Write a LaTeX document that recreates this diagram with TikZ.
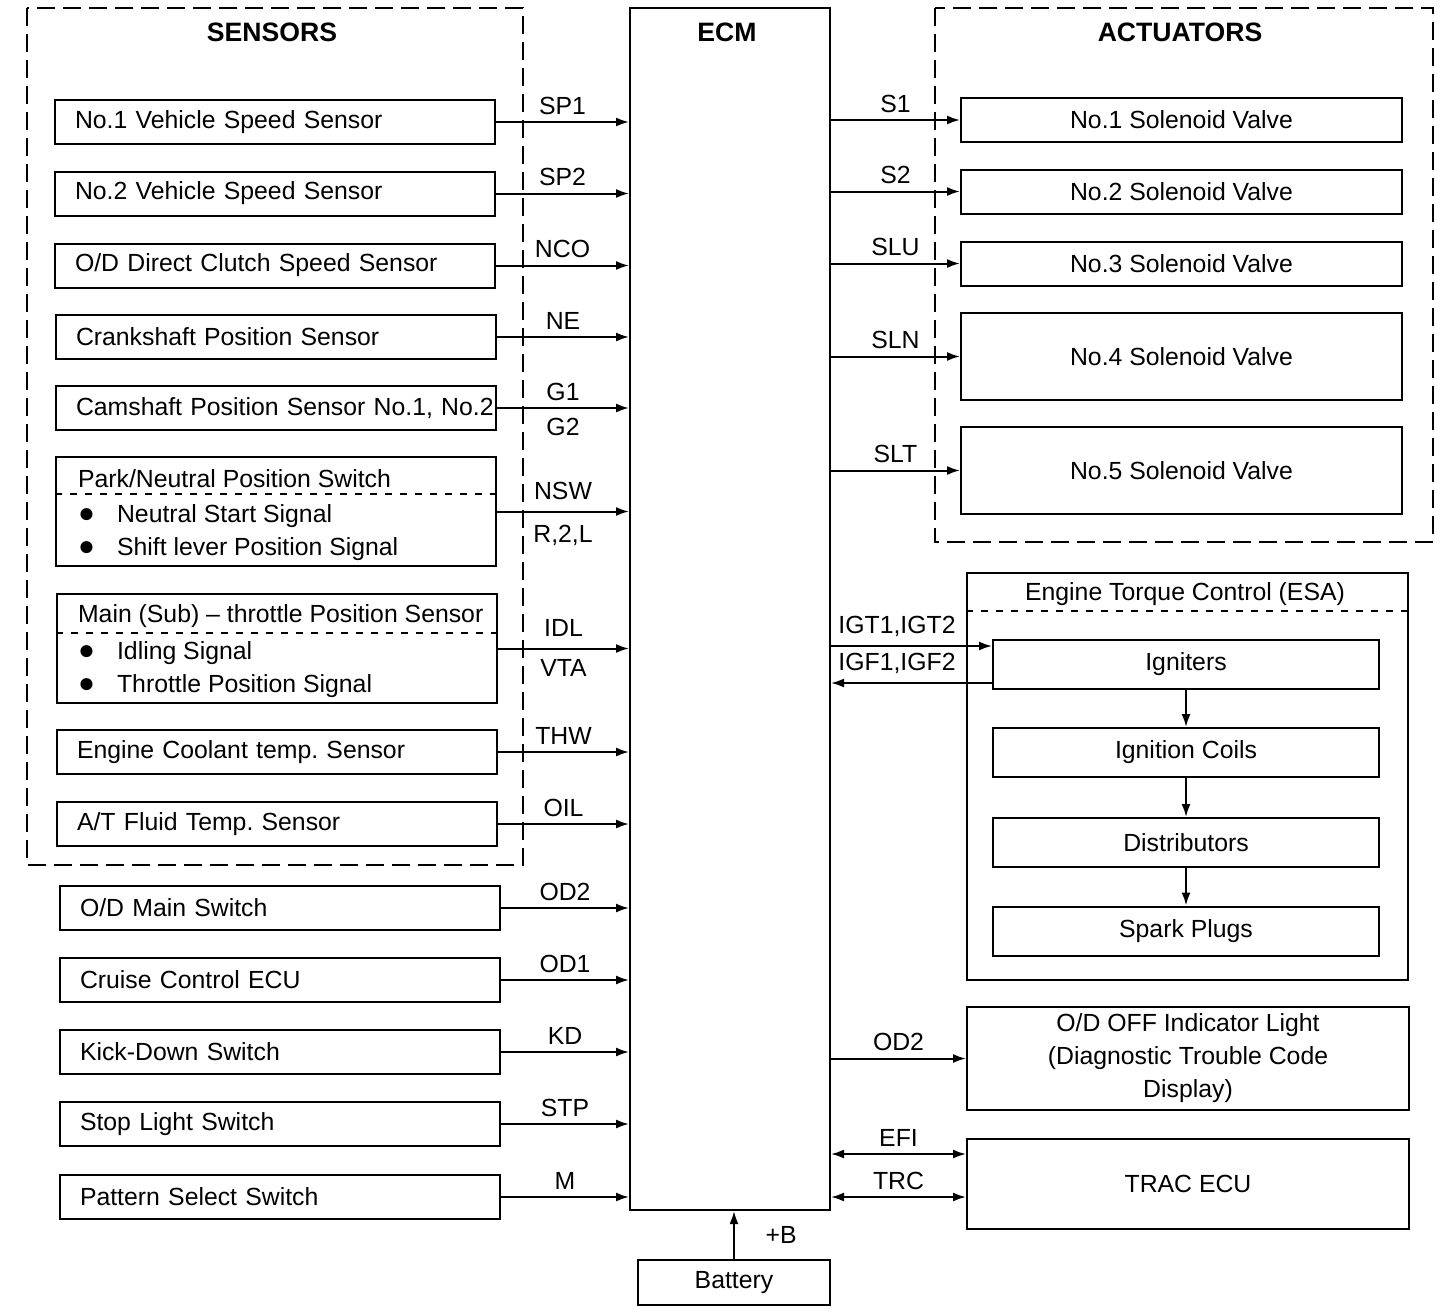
\documentclass[tikz,border=0pt]{standalone}
\usepackage{fontspec}
\setmainfont{Liberation Sans}
\usetikzlibrary{arrows.meta,calc}
\frenchspacing

\newcommand{\blt}{\makebox[19.5pt][l]{\fontsize{14}{14}\selectfont ●}}

\begin{document}
\begin{tikzpicture}[x=0.5pt,y=-0.5pt,
  font=\fontsize{12.4}{16.5}\selectfont,
  >={Latex[length=6.5pt,width=4.5pt]},
  blk/.style={draw,line width=1pt,minimum height=22pt},
  sbox/.style={blk,minimum width=220pt,text width=200pt,inner xsep=10pt,align=left},
  abox/.style={blk,minimum width=220.5pt,align=center},
  ibox/.style={blk,minimum width=193pt,minimum height=24.5pt},
  grp/.style={line width=0.9pt,dash pattern=on 9pt off 4pt},
  sepline/.style={line width=0.7pt,dash pattern=on 3.5pt off 4pt},
  sig/.style={line width=1pt},
  head/.style={font=\fontsize{13.3}{16}\selectfont\bfseries}]
  \useasboundingbox (0,0) rectangle (1440,1312);

  % ECM in the middle, battery below
  \node[blk,minimum width=100pt,minimum height=601pt] (ecm) at (730,609) {};
  \node[head] (ecmt) at (727,32) {ECM};
  \node[blk,minimum width=96pt,minimum height=22.5pt] (bat) at (734,1282.5) {Battery};
  \draw[sig,->] (bat.north) -- (bat.north |- ecm.south) node[midway,right=12pt] {+B};

  % sensors
  \draw[grp] (27,8) rectangle (523,865);
  \node[head] (senst) at (272,32) {SENSORS};
  \node[sbox] (s1) at (275,122) {No.1 Vehicle Speed Sensor};
  \node[sbox] (s2) at (275,193.5) {No.2 Vehicle Speed Sensor};
  \node[sbox] (s3) at (275,265.5) {O/D Direct Clutch Speed Sensor};
  \node[sbox] (s4) at (276,337) {Crankshaft Position Sensor};
  \node[sbox] (s5) at (276,408) {\mbox{Camshaft Position Sensor No.1, No.2}};

  \node[blk,minimum width=220pt,minimum height=54.5pt] (pns) at (276,511.5) {};
  \node[anchor=west] (pnst) at (71,479) {Park/Neutral Position Switch};
  \draw[sepline] (pns.west |- 0,494) -- (pns.east |- 0,494);
  \node[anchor=west] (pnsa) at (71,516) {\blt Neutral Start Signal};
  \node[anchor=west] (pnsb) at (71,549) {\blt Shift lever Position Signal};

  \node[blk,minimum width=220pt,minimum height=54.5pt] (tps) at (277,648.5) {};
  \node[anchor=west] (tpst) at (71,616) {\mbox{Main (Sub) -- throttle Position Sensor}};
  \draw[sepline] (tps.west |- 0,633) -- (tps.east |- 0,633);
  \node[anchor=west] (tpsa) at (71,653) {\blt Idling Signal};
  \node[anchor=west] (tpsb) at (71,686) {\blt Throttle Position Signal};

  \node[sbox] (s8) at (277,752) {Engine Coolant temp. Sensor};
  \node[sbox] (s9) at (277,824) {A/T Fluid Temp. Sensor};

  % switches outside the sensor group
  \node[sbox] (s10) at (280,908) {O/D Main Switch};
  \node[sbox] (s11) at (280,980) {Cruise Control ECU};
  \node[sbox] (s12) at (280,1052) {Kick-Down Switch};
  \node[sbox] (s13) at (280,1124) {Stop Light Switch};
  \node[sbox] (s14) at (280,1197) {Pattern Select Switch};

  \foreach \n/\l in {s1/SP1,s2/SP2,s3/NCO,s4/NE,s8/THW,s9/OIL,
                     s10/OD2,s11/OD1,s12/KD,s13/STP,s14/M} {
    \draw[sig,->] (\n.east) -- (\n.east -| ecm.west) node[midway,above] {\l};
  }
  \draw[sig,->] (s5.east) -- (s5.east -| ecm.west)
    node[midway,above] {G1} node[midway,below=1.5pt] {G2};
  \draw[sig,->] (pns.east) -- (pns.east -| ecm.west)
    node[midway,above=2pt] {NSW} node[midway,below=3pt] {R,2,L};
  \draw[sig,->] (tps.east) -- (tps.east -| ecm.west)
    node[midway,above=2pt] {IDL} node[midway,below=1.5pt] {VTA};

  % actuators
  \draw[grp] (935,8) rectangle (1433,542);
  \node[head] (actt) at (1180,32) {ACTUATORS};
  \node[abox] (a1) at (1181.5,120) {No.1 Solenoid Valve};
  \node[abox] (a2) at (1181.5,191.5) {No.2 Solenoid Valve};
  \node[abox] (a3) at (1181.5,263.5) {No.3 Solenoid Valve};
  \node[abox,minimum height=43.5pt] (a4) at (1181.5,356.5) {No.4 Solenoid Valve};
  \node[abox,minimum height=43.5pt] (a5) at (1181.5,470.5) {No.5 Solenoid Valve};
  \foreach \n/\l in {a1/S1,a2/S2,a3/SLU,a4/SLN,a5/SLT} {
    \draw[sig,->] (\n.west -| ecm.east) -- (\n.west) node[midway,above] {\l};
  }

  % engine torque control
  \node[blk,minimum width=220.5pt,minimum height=203.5pt] (esa) at (1187.5,776.5) {};
  \node (esat) at (1185,594) {Engine Torque Control (ESA)};
  \draw[sepline] (esa.west |- 0,611) -- (esa.east |- 0,611);
  \node[ibox] (ign) at (1186,664.5) {Igniters};
  \node[ibox] (coil) at (1186,752.5) {Ignition Coils};
  \node[ibox] (dist) at (1186,842.5) {Distributors};
  \node[ibox] (plug) at (1186,931) {Spark Plugs};
  \foreach \a/\b in {ign/coil,coil/dist,dist/plug} {
    \draw[sig,->] (\a) -- (\b);
  }
  \draw[sig,->] (ecm.east |- 0,646) -- (ign.west |- 0,646)
    node[pos=0.41,above=1pt] {IGT1,IGT2};
  \draw[sig,->] (ign.west |- 0,683) -- (ecm.east |- 0,683)
    node[pos=0.59,above=1pt] {IGF1,IGF2};

  % indicator and TRAC
  \node[abox,minimum width=221pt,minimum height=51.5pt] (odl) at (1188,1058.5)
    {O/D OFF Indicator Light\\(Diagnostic Trouble Code\\Display)};
  \node[abox,minimum width=221pt,minimum height=45pt] (trac) at (1188,1184) {TRAC ECU};
  \draw[sig,->] (odl.west -| ecm.east) -- (odl.west) node[midway,above] {OD2};
  \draw[sig,<->] (ecm.east |- 0,1154) -- (trac.west |- 0,1154) node[midway,above] {EFI};
  \draw[sig,<->] (ecm.east |- 0,1197) -- (trac.west |- 0,1197) node[midway,above] {TRC};
\end{tikzpicture}
\end{document}
